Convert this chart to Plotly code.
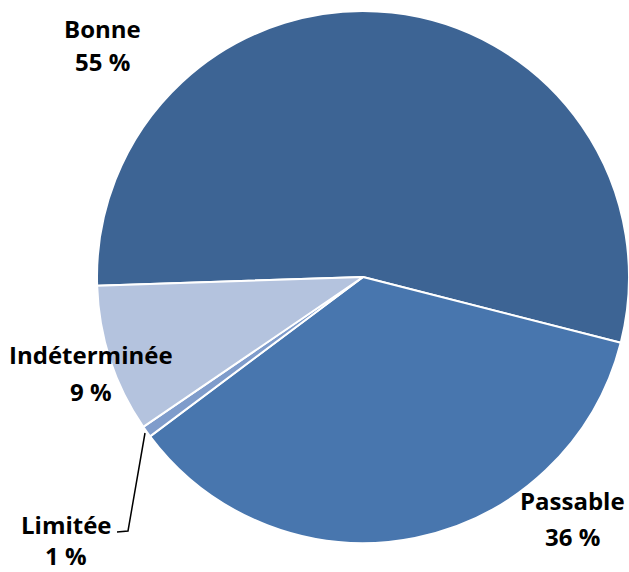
import plotly.graph_objects as go

labels = ["Bonne", "Passable", "Limitée", "Indéterminée"]
values = [54.5, 35.8, 0.7, 9.0]
pct_text = ["55 %", "36 %", "1 %", "9 %"]
colors = ["#3D6494", "#4876AE", "#7F9CCB", "#B4C3DE"]

W, H = 629, 572


def px(x, y):
    """window pixel -> paper coords"""
    return x / W, 1 - y / H


fig = go.Figure()
cx, cy, r = 363, 277, 266
fig.add_trace(go.Pie(
    labels=labels, values=values, sort=False, direction="clockwise",
    rotation=268.1, textinfo="none", hoverinfo="label+percent",
    marker=dict(colors=colors, line=dict(color="white", width=2)),
    domain=dict(x=[(cx - r) / W, 1.0],
                y=[(H - cy - r) / H, (H - cy + r) / H]),
    showlegend=False,
))

# label line centers in window pixels: (x, y of name, y of percent)
label_pos = [(102, 28, 62), (572, 500, 536), (66, 524, 555), (91, 354, 391)]
for lab, txt, (x, y1, y2) in zip(labels, pct_text, label_pos):
    for t, yy in ((lab, y1), (txt, y2)):
        ax, ay = px(x, yy)
        fig.add_annotation(
            x=ax, y=ay, xref="paper", yref="paper",
            text=f"<b>{t}</b>", showarrow=False, borderpad=0,
            font=dict(family="Open Sans", size=24, color="black"),
            xanchor="center", yanchor="middle",
        )

# leader line for Limitée
pts = [(145, 433), (128, 531), (117, 532)]
path = "M " + " L ".join("{},{}".format(*px(x, y)) for x, y in pts)
fig.add_shape(type="path", path=path, xref="paper", yref="paper",
              line=dict(color="black", width=1.5))

fig.update_layout(
    width=W, height=H, margin=dict(l=0, r=0, t=0, b=0),
    paper_bgcolor="white", plot_bgcolor="white",
)
fig.write_html(
    "out.html",
    config={"displayModeBar": False},
    post_script="document.body.style.margin='0';"
                "document.body.style.overflow='hidden';",
)
